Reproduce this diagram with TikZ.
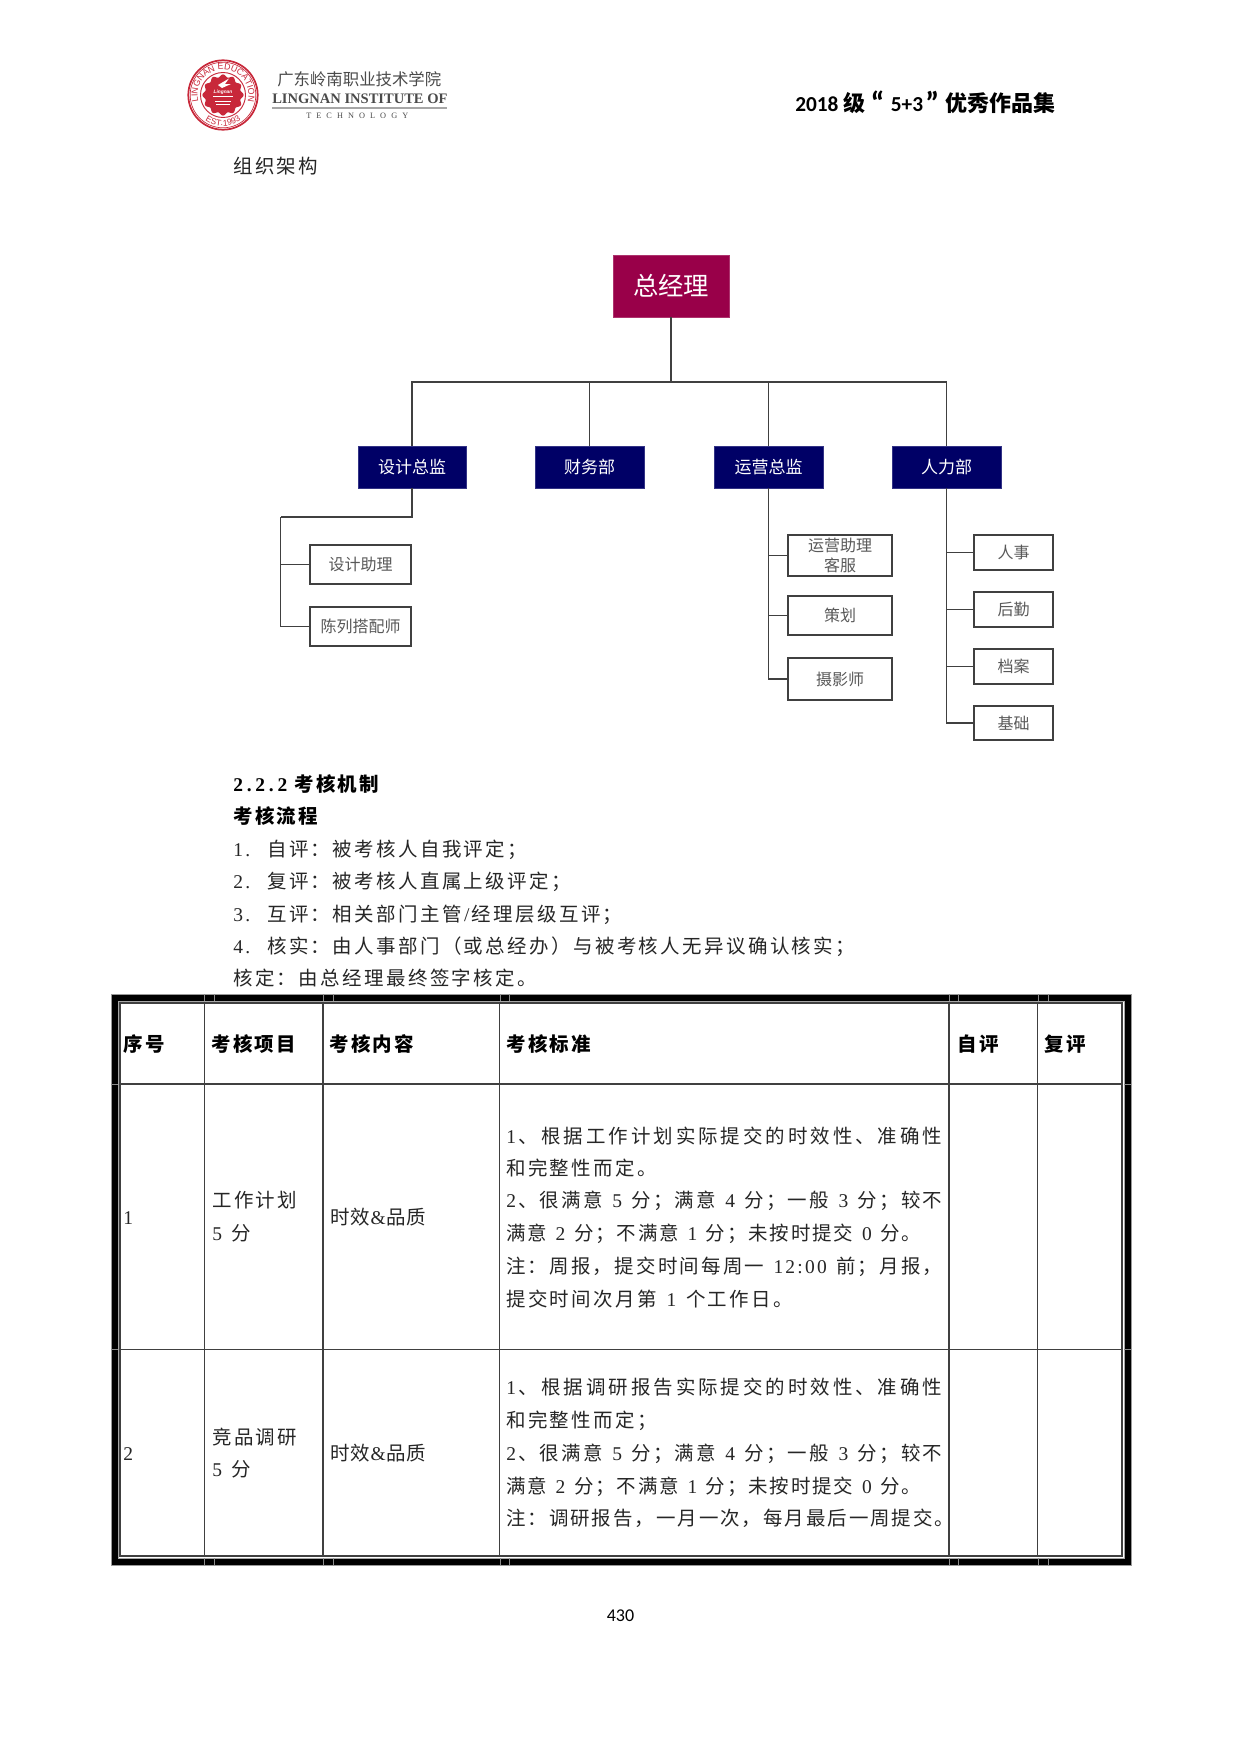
\documentclass[tikz,border=0pt]{standalone}
\usepackage{fontspec}
\usetikzlibrary{decorations.text}
\setmainfont{Liberation Serif}
\newfontfamily\cjk{Noto Sans CJK SC}
\newfontfamily\latf{Liberation Serif}
\newfontfamily\calf{Carlito}
\newfontfamily\arialf{Liberation Sans}
\definecolor{gmred}{HTML}{990049}
\definecolor{deptblue}{HTML}{000066}
\definecolor{wire}{HTML}{404040}
\definecolor{childtext}{HTML}{595959}
\definecolor{logored}{HTML}{C8283A}
\definecolor{logogrey}{HTML}{4A4A4A}
% character-by-character setting so that the pitch can be controlled
\def\fitend{\fitend}
\def\gapskip{\hskip 1.8pt}
\def\fitchar#1{\ifnum`#1<128 {\latf #1}\else #1\fi}
\def\fitnext#1{\ifx#1\fitend\else\gapskip\fitchar{#1}\expandafter\fitnext\fi}
\def\fitloop#1{\ifx#1\fitend\else\fitchar{#1}\expandafter\fitnext\fi}
\newcommand\ptxt[1]{\fitloop#1\fitend}
\newcommand\wtxt[2]{\makebox[\dimexpr#1pt*3/4\relax][s]{\def\gapskip{\hfil}\fitloop#2\fitend}}
\newcommand\bigquote[1]{\raisebox{-2.6pt}{\fontsize{24}{24}\selectfont #1}}
\newcount\lblc
\newcommand\lbl[4][bodytext]{\global\advance\lblc by 1
  \node[#1] (t\the\lblc) at (#2,{#3+7}) {#4};}
\newcommand\orgbox[7]{\node[#6,minimum width={(#4-#2)*0.75pt},minimum height={(#5-#3)*0.75pt}] (#1) at ({(#2+#4)/2},{(#3+#5)/2}) {#7};}
\tikzset{
  bodytext/.style={anchor=base west,inner sep=0pt,text=black!85,font=\cjk\fontsize{14.6}{17}\selectfont},
  boldtext/.style={bodytext,text=black,font=\cjk\bfseries\fontsize{14.6}{17}\selectfont},
  gmbox/.style={fill=gmred,draw=gmred!80,line width=0.5pt,inner sep=0pt,text=white,font=\cjk\fontsize{19}{22}\selectfont},
  deptbox/.style={fill=deptblue,draw=deptblue!80,line width=0.5pt,inner sep=0pt,text=white,font=\cjk\fontsize{12.75}{15}\selectfont},
  childbox/.style={fill=white,draw=wire,line width=1.2pt,inner sep=0pt,text=childtext,align=center,font=\cjk\fontsize{12}{15}\selectfont},
  wireline/.style={draw=wire,line width=1.3pt},
  gridline/.style={draw=black!75,line width=0.9pt},
  tickline/.style={draw=black!45,line width=0.5pt},
}
\begin{document}
\begin{tikzpicture}[x=0.75pt,y=-0.75pt]
\useasboundingbox (0,0) rectangle (1240,1753);
\fill[white] (0,0) rectangle (1240,1753);
% ---- logo
\draw[logored,line width=1.3pt] (223,95) circle[radius=34.7];
\draw[logored,line width=0.5pt] (223,95) circle[radius=32.8];
\draw[logored,line width=0.7pt] (223,95) circle[radius=22.5];
\fill[logored] plot[domain=0:360,samples=145,smooth] ({223+(19.3+1.3*cos(12*\x))*cos(\x)},{95+(19.3+1.3*cos(12*\x))*sin(\x)}) -- cycle;
\path[decorate,decoration={text along path,text align=center,text color=logored,text={|\arialf\fontsize{6.6}{7}\selectfont|LINGNAN EDUCATION}}] (199.9,105.8) arc[start angle=155,end angle=385,radius=25.5];
\path[decorate,decoration={text along path,text align=center,text color=logored,text={|\arialf\fontsize{6.4}{7}\selectfont|EST.1993}}] (202.3,118) arc[start angle=132,end angle=48,radius=31];
\fill[white] (218,85) -- (229,78.5) -- (225,84) -- (231,84) -- (222,88) -- cycle;
\node[inner sep=0pt,text=white,font=\arialf\bfseries\itshape\fontsize{3.6}{4}\selectfont] (lgmark) at (223,92.5) {Lingnan};
\draw[white,line width=0.3pt] (213,96) -- (233,96) (215,101) -- (231,101) (216,104) -- (230,104);
\node[anchor=base west,inner sep=0pt,text=logogrey,font=\cjk\fontsize{12.3}{14}\selectfont] (lgcn) at (277,85.5) {广东岭南职业技术学院};
\node[anchor=base west,inner sep=0pt,text=logogrey,font=\latf\bfseries\fontsize{10.9}{12}\selectfont] (lgen) at (272,103.3) {LINGNAN INSTITUTE OF};
\draw[black!35,line width=0.8pt] (272,108) -- (447,108);
\node[anchor=base west,inner sep=0pt,text=logogrey,font=\latf\fontsize{6.2}{8}\selectfont] (lgte) at (306,118) {\wtxt{102}{TECHNOLOGY}};
% ---- header title and page number
\node[anchor=base west,inner sep=0pt,font=\calf\bfseries\fontsize{16}{18}\selectfont] (title) at (795,111) {2018 {\cjk\fontsize{16.5}{18}\selectfont 级}\hspace{4pt}\bigquote{“}\hspace{4.7pt}5+3\hspace{1.7pt}\bigquote{”}\hspace{4.5pt}{\cjk\fontsize{16.5}{18}\selectfont 优秀作品集}};
\node[inner sep=0pt,font=\calf\fontsize{13.5}{16}\selectfont] (page) at (620.5,1615.5) {430};
\lbl{233}{166.5}{\ptxt{组织架构}}
% ---- organisation chart
\orgbox{gm}{613}{255}{729}{317}{gmbox}{总经理}
\orgbox{design}{358}{446}{466}{488}{deptbox}{设计总监}
\orgbox{finance}{535}{446}{644}{488}{deptbox}{财务部}
\orgbox{ops}{714}{446}{823}{488}{deptbox}{运营总监}
\orgbox{hr}{892}{446}{1001}{488}{deptbox}{人力部}
\orgbox{d1}{310}{545}{411}{584}{childbox}{设计助理}
\orgbox{d2}{310}{607}{411}{646}{childbox}{陈列搭配师}
\orgbox{o1}{788}{535}{892}{576}{childbox}{运营助理\\客服}
\orgbox{o2}{788}{596}{892}{635}{childbox}{策划}
\orgbox{o3}{788}{658}{892}{700}{childbox}{摄影师}
\orgbox{h1}{974}{535}{1053}{570}{childbox}{人事}
\orgbox{h2}{974}{592}{1053}{627}{childbox}{后勤}
\orgbox{h3}{974}{649}{1053}{684}{childbox}{档案}
\orgbox{h4}{974}{706}{1053}{740}{childbox}{基础}
\coordinate (bus) at (671,382);
\coordinate (dbus) at (280.5,517);
\draw[wireline,line width=1.7pt] (gm.south) -- (bus);
\draw[wireline] (design.north) |- (bus);
\draw[wireline] (finance.north) |- (bus);
\draw[wireline] (ops.north) |- (bus);
\draw[wireline] (hr.north) |- (bus);
\draw[wireline,line width=1.8pt] (design.south) |- (dbus);
\draw[wireline] (dbus) |- (d2.west);
\draw[wireline] (dbus |- d1.west) -- (d1.west);
\draw[wireline] (ops.south) |- (o3.west);
\draw[wireline] (ops.south |- o1.west) -- (o1.west);
\draw[wireline] (ops.south |- o2.west) -- (o2.west);
\draw[wireline] (hr.south) |- (h4.west);
\draw[wireline] (hr.south |- h1.west) -- (h1.west);
\draw[wireline] (hr.south |- h2.west) -- (h2.west);
\draw[wireline] (hr.south |- h3.west) -- (h3.west);
% ---- text section
\lbl[boldtext]{233}{784}{\wtxt{54}{2.2.2}\hspace{5.25pt}\ptxt{考核机制}}
\lbl[boldtext]{233}{816}{\ptxt{考核流程}}
\lbl{233}{849}{\ptxt{1.~~自评：被考核人自我评定；}}
\lbl{233}{881}{\ptxt{2.~~复评：被考核人直属上级评定；}}
\lbl{233}{914}{\ptxt{3.~~互评：相关部门主管/经理层级互评；}}
\lbl{233}{946}{\ptxt{4.~~核实：由人事部门（或总经办）与被考核人无异议确认核实；}}
\lbl{233}{978}{\ptxt{核定：由总经理最终签字核定。}}
% ---- table frame
\draw[black,line width=5.25pt] (114.5,997.5) rectangle (1127.5,1561.5);
\draw[black!40,line width=0.5pt] (111,994) rectangle (1131,1565);
\draw[black!35,line width=0.6pt] (118,1001) rectangle (1124,1558);
\draw[gridline] (120,1003) rectangle (1122,1556);
\foreach \xa in {204,214,323,333,500,509,949,958,1038,1048} {
  \draw[tickline] (\xa,994) -- (\xa,1001);
  \draw[tickline] (\xa,1558) -- (\xa,1565);
}
\foreach \ya in {1084,1349.5} {
  \draw[tickline] (111,\ya) -- (118,\ya);
  \draw[tickline] (1124,\ya) -- (1131,\ya);
}
\draw[gridline] (120,1084) -- (1122,1084) (120,1349.5) -- (1122,1349.5);
\foreach \xa in {204.6,323,499.8,949,1037.6} \draw[gridline] (\xa,1003) -- (\xa,1556);
% ---- table header
\lbl[boldtext]{123}{1044}{\ptxt{序号}}
\lbl[boldtext]{211}{1044}{\ptxt{考核项目}}
\lbl[boldtext]{329}{1044}{\ptxt{考核内容}}
\lbl[boldtext]{506}{1044}{\ptxt{考核标准}}
\lbl[boldtext]{957}{1044}{\ptxt{自评}}
\lbl[boldtext]{1044}{1044}{\ptxt{复评}}
% ---- row 1
\lbl{123}{1217.5}{\ptxt{1}}
\lbl{212}{1200.6}{\ptxt{工作计划}}
\lbl{212}{1233}{\ptxt{5~分}}
\lbl{330}{1217.5}{\wtxt{96}{时效\&品质}}
\lbl{506}{1136}{\wtxt{436}{1、根据工作计划实际提交的时效性、准确性}}
\lbl{506}{1168}{\ptxt{和完整性而定。}}
\lbl{506}{1200.6}{\wtxt{436}{2、很满意~5~分；满意~4~分；一般~3~分；较不}}
\lbl{506}{1233}{\wtxt{415}{满意~2~分；不满意~1~分；未按时提交~0~分。}}
\lbl{506}{1266.6}{\wtxt{436}{注：周报，提交时间每周一~12:00~前；月报，}}
\lbl{506}{1299}{\ptxt{提交时间次月第~1~个工作日。}}
% ---- row 2
\lbl{123}{1453}{\ptxt{2}}
\lbl{212}{1437}{\ptxt{竞品调研}}
\lbl{212}{1469}{\ptxt{5~分}}
\lbl{330}{1453}{\wtxt{96}{时效\&品质}}
\lbl{506}{1387.5}{\wtxt{436}{1、根据调研报告实际提交的时效性、准确性}}
\lbl{506}{1420}{\ptxt{和完整性而定；}}
\lbl{506}{1453}{\wtxt{436}{2、很满意~5~分；满意~4~分；一般~3~分；较不}}
\lbl{506}{1486}{\wtxt{415}{满意~2~分；不满意~1~分；未按时提交~0~分。}}
\lbl{506}{1518}{\wtxt{448}{注：调研报告，一月一次，每月最后一周提交。}}
\end{tikzpicture}
\end{document}
